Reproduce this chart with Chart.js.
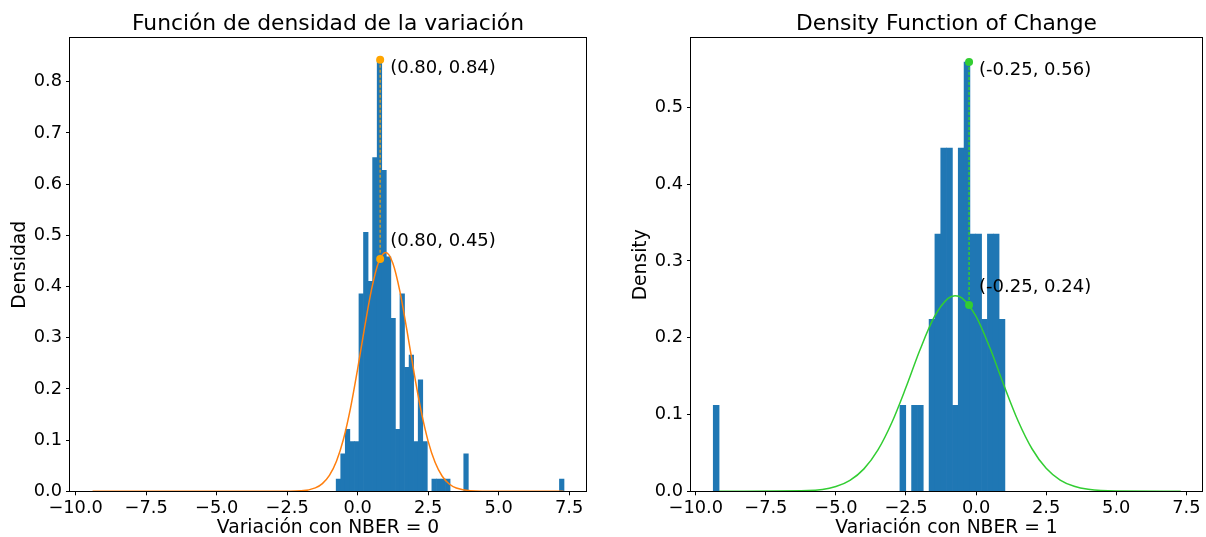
<!DOCTYPE html>
<html>
<head>
<meta charset="utf-8">
<script src="https://cdn.jsdelivr.net/npm/chart.js@4.4.1/dist/chart.umd.min.js"></script>
<style>
html, body { margin: 0; padding: 0; background: #fff; }
#wrap { position: relative; width: 1206px; height: 537px; }
canvas { position: absolute; top: 0; }
#left { left: 0; }
#right { left: 603px; }
</style>
</head>
<body>
<div id="wrap">
  <canvas id="left" width="603" height="537"></canvas>
  <canvas id="right" width="603" height="537"></canvas>
</div>
<script>
// histogram bins: left edge of the first bin and bin width
var leftBinStart = -0.76;
var leftBinWidth = 0.1616;
var rightBinStart = -9.376;
var rightBinWidth = 0.2081;

// density of each bin (50 bins per panel)
var leftDensity = [0.024, 0.073, 0.121, 0.097, 0.097, 0.386, 0.506, 0.410, 0.652, 0.843,
                   0.627, 0.458, 0.338, 0.121, 0.386, 0.242, 0.266, 0.097, 0.218, 0.097,
                   0, 0.024, 0.024, 0.024, 0.024, 0, 0, 0, 0.073, 0,
                   0, 0, 0, 0, 0, 0, 0, 0, 0, 0,
                   0, 0, 0, 0, 0, 0, 0, 0, 0, 0.024];
var rightDensity = [0.112, 0, 0, 0, 0, 0, 0, 0, 0, 0,
                    0, 0, 0, 0, 0, 0, 0, 0, 0, 0,
                    0, 0, 0, 0, 0, 0, 0, 0, 0, 0,
                    0, 0, 0.112, 0, 0.112, 0.112, 0, 0.224, 0.335, 0.447,
                    0.447, 0.112, 0.447, 0.559, 0.335, 0.335, 0.224, 0.335, 0.335, 0.224];

// fitted density curves
var leftCurveX = [-9.4, -3, -2, -1.5, -1.25, -1, -0.75, -0.5, -0.25, 0, 0.25, 0.5, 0.75, 1,
                  1.25, 1.5, 1.75, 2, 2.25, 2.5, 2.75, 3, 3.25, 3.5, 4, 5, 7.3];
var leftCurveY = [0, 0, 0.001, 0.0067, 0.0151, 0.0311, 0.0588, 0.1022, 0.163, 0.2387, 0.3208, 0.396, 0.4486, 0.4666,
                  0.4455, 0.3905, 0.3143, 0.2322, 0.1575, 0.0981, 0.0561, 0.0294, 0.0142, 0.0063, 0.001, 0, 0];
var rightCurveX = [-9.17, -6, -5, -4.5, -4, -3.5, -3, -2.5, -2, -1.5, -1, -0.75, -0.5, 0,
                   0.5, 1, 1.5, 2, 2.5, 3, 3.5, 4, 5, 7.3];
var rightCurveY = [0, 0.0009, 0.0063, 0.0143, 0.0292, 0.0539, 0.0899, 0.1354, 0.1843, 0.2264, 0.2512, 0.2547, 0.2517, 0.2278,
                   0.1862, 0.1374, 0.0916, 0.0551, 0.03, 0.0147, 0.0065, 0.0026, 0.0003, 0];

// marked points: histogram peak and curve value at the same x
var leftMarkX = 0.80;
var leftMarkY = [0.843, 0.454];
var rightMarkX = -0.25;
var rightMarkY = [0.559, 0.2425];

Chart.defaults.font.family = '"DejaVu Sans", sans-serif';
Chart.defaults.color = '#000';

function bins(start, width, dens) {
  return dens.map(function (d, i) {
    return {x: start + (i + 0.5) * width, y: d};
  });
}
function pairs(xs, ys) {
  return xs.map(function (x, i) { return {x: x, y: ys[i]}; });
}
function fmt(v) {
  return v.toFixed(1).replace('-', '\u2212');
}

// all four spines + the title centred over the plot area
var framePlugin = {
  id: 'frame',
  afterDatasetsDraw: function (chart, args, opts) {
    var a = chart.chartArea, ctx = chart.ctx;
    ctx.save();
    ctx.strokeStyle = '#000';
    ctx.lineWidth = 1;
    ctx.strokeRect(Math.round(a.left) - 0.5, Math.round(a.top) - 0.5,
      Math.round(a.right) - Math.round(a.left) + 1, Math.round(a.bottom) - Math.round(a.top) + 1);
    ctx.font = '21.8px "DejaVu Sans"';
    ctx.fillStyle = '#000';
    ctx.textAlign = 'center';
    ctx.textBaseline = 'alphabetic';
    ctx.fillText(opts.title, (a.left + a.right) / 2, a.top - 8);
    ctx.restore();
  }
};

// "(x, y)" labels next to the marked points
var notePlugin = {
  id: 'notes',
  afterDraw: function (chart, args, opts) {
    var xs = chart.scales.x, ys = chart.scales.y, ctx = chart.ctx;
    ctx.save();
    ctx.font = '18px "DejaVu Sans"';
    ctx.fillStyle = '#000';
    ctx.textAlign = 'left';
    ctx.textBaseline = 'alphabetic';
    opts.items.forEach(function (it) {
      var px = xs.getPixelForValue(it.x), py = ys.getPixelForValue(it.y);
      ctx.fillText('(' + it.x.toFixed(2) + ', ' + it.y.toFixed(2) + ')', px + 10, py + it.dy);
    });
    ctx.restore();
  }
};

function makeChart(id, o) {
  var ctx = document.getElementById(id).getContext('2d');
  return new Chart(ctx, {
    type: 'bar',
    data: {
      datasets: [
        {
          type: 'line',
          data: [{x: o.markX, y: o.markY[0]}, {x: o.markX, y: o.markY[1]}],
          showLine: false,
          pointRadius: 4,
          pointBackgroundColor: o.markColor,
          pointBorderWidth: 0,
          order: 0
        },
        {
          type: 'line',
          data: [{x: o.markX, y: o.markY[0]}, {x: o.markX, y: o.markY[1]}],
          borderColor: o.dashColor,
          borderWidth: 1.5,
          borderDash: [3, 2],
          pointRadius: 0,
          order: 1
        },
        {
          type: 'line',
          data: pairs(o.curveX, o.curveY),
          borderColor: o.curveColor,
          borderWidth: 1.5,
          pointRadius: 0,
          cubicInterpolationMode: 'monotone',
          order: 2
        },
        {
          type: 'bar',
          data: bins(o.binStart, o.binWidth, o.density),
          backgroundColor: '#1f77b4',
          borderWidth: 0,
          barPercentage: 1,
          categoryPercentage: 1,
          order: 3
        }
      ]
    },
    options: {
      responsive: false,
      animation: false,
      devicePixelRatio: 1,
      layout: {padding: {left: 0, right: o.padRight, top: 38.3, bottom: 0}},
      plugins: {
        legend: {display: false},
        tooltip: {enabled: false},
        title: {display: false},
        frame: {title: o.title},
        notes: {
          items: [
            {x: o.markX, y: o.markY[0], dy: 13.3},
            {x: o.markX, y: o.markY[1], dy: -13.3}
          ]
        }
      },
      scales: {
        x: {
          type: 'linear',
          offset: false,
          min: o.xMin,
          max: o.xMax,
          afterFit: function (s) { s.height = 45.7; },
          border: {display: false},
          grid: {offset: false, drawOnChartArea: false, tickLength: 4, tickColor: '#000'},
          ticks: {
            stepSize: 2.5,
            includeBounds: false,
            autoSkip: false,
            maxRotation: 0,
            padding: 2,
            font: {size: 17.8},
            color: '#000',
            callback: function (v) { return fmt(v); }
          },
          title: {
            display: true,
            text: o.xTitle,
            font: {size: 18.7},
            color: '#000',
            padding: {top: 0, bottom: -2}
          }
        },
        y: {
          min: 0,
          max: o.yMax,
          afterFit: function (s) { s.width = o.yWidth; },
          border: {display: false},
          grid: {offset: false, drawOnChartArea: false, tickLength: 4, tickColor: '#000'},
          ticks: {
            stepSize: 0.1,
            includeBounds: false,
            padding: 4,
            font: {size: 17.8},
            color: '#000',
            callback: function (v) { return v.toFixed(1); }
          },
          title: {
            display: true,
            text: o.yTitle,
            font: {size: 18.7},
            color: '#000',
            padding: {top: o.yTitlePad, bottom: 0}
          }
        }
      }
    },
    plugins: [framePlugin, notePlugin]
  });
}

makeChart('left', {
  title: 'Función de densidad de la variación',
  xTitle: 'Variación con NBER = 0',
  yTitle: 'Densidad',
  binStart: leftBinStart, binWidth: leftBinWidth, density: leftDensity,
  curveX: leftCurveX, curveY: leftCurveY, curveColor: '#ff7f0e',
  markX: leftMarkX, markY: leftMarkY, markColor: '#ffa500', dashColor: 'rgba(255,165,0,0.75)',
  xMin: -10.2, xMax: 8.1, yMax: 0.885,
  yWidth: 70, yTitlePad: 9.4, padRight: 17
});

makeChart('right', {
  title: 'Density Function of Change',
  xTitle: 'Variación con NBER = 1',
  yTitle: 'Density',
  binStart: rightBinStart, binWidth: rightBinWidth, density: rightDensity,
  curveX: rightCurveX, curveY: rightCurveY, curveColor: '#32cd32',
  markX: rightMarkX, markY: rightMarkY, markColor: '#32cd32', dashColor: '#32cd32',
  xMin: -10.17, xMax: 8.06, yMax: 0.59,
  yWidth: 88, yTitlePad: 27.2, padRight: 1
});
</script>
</body>
</html>
